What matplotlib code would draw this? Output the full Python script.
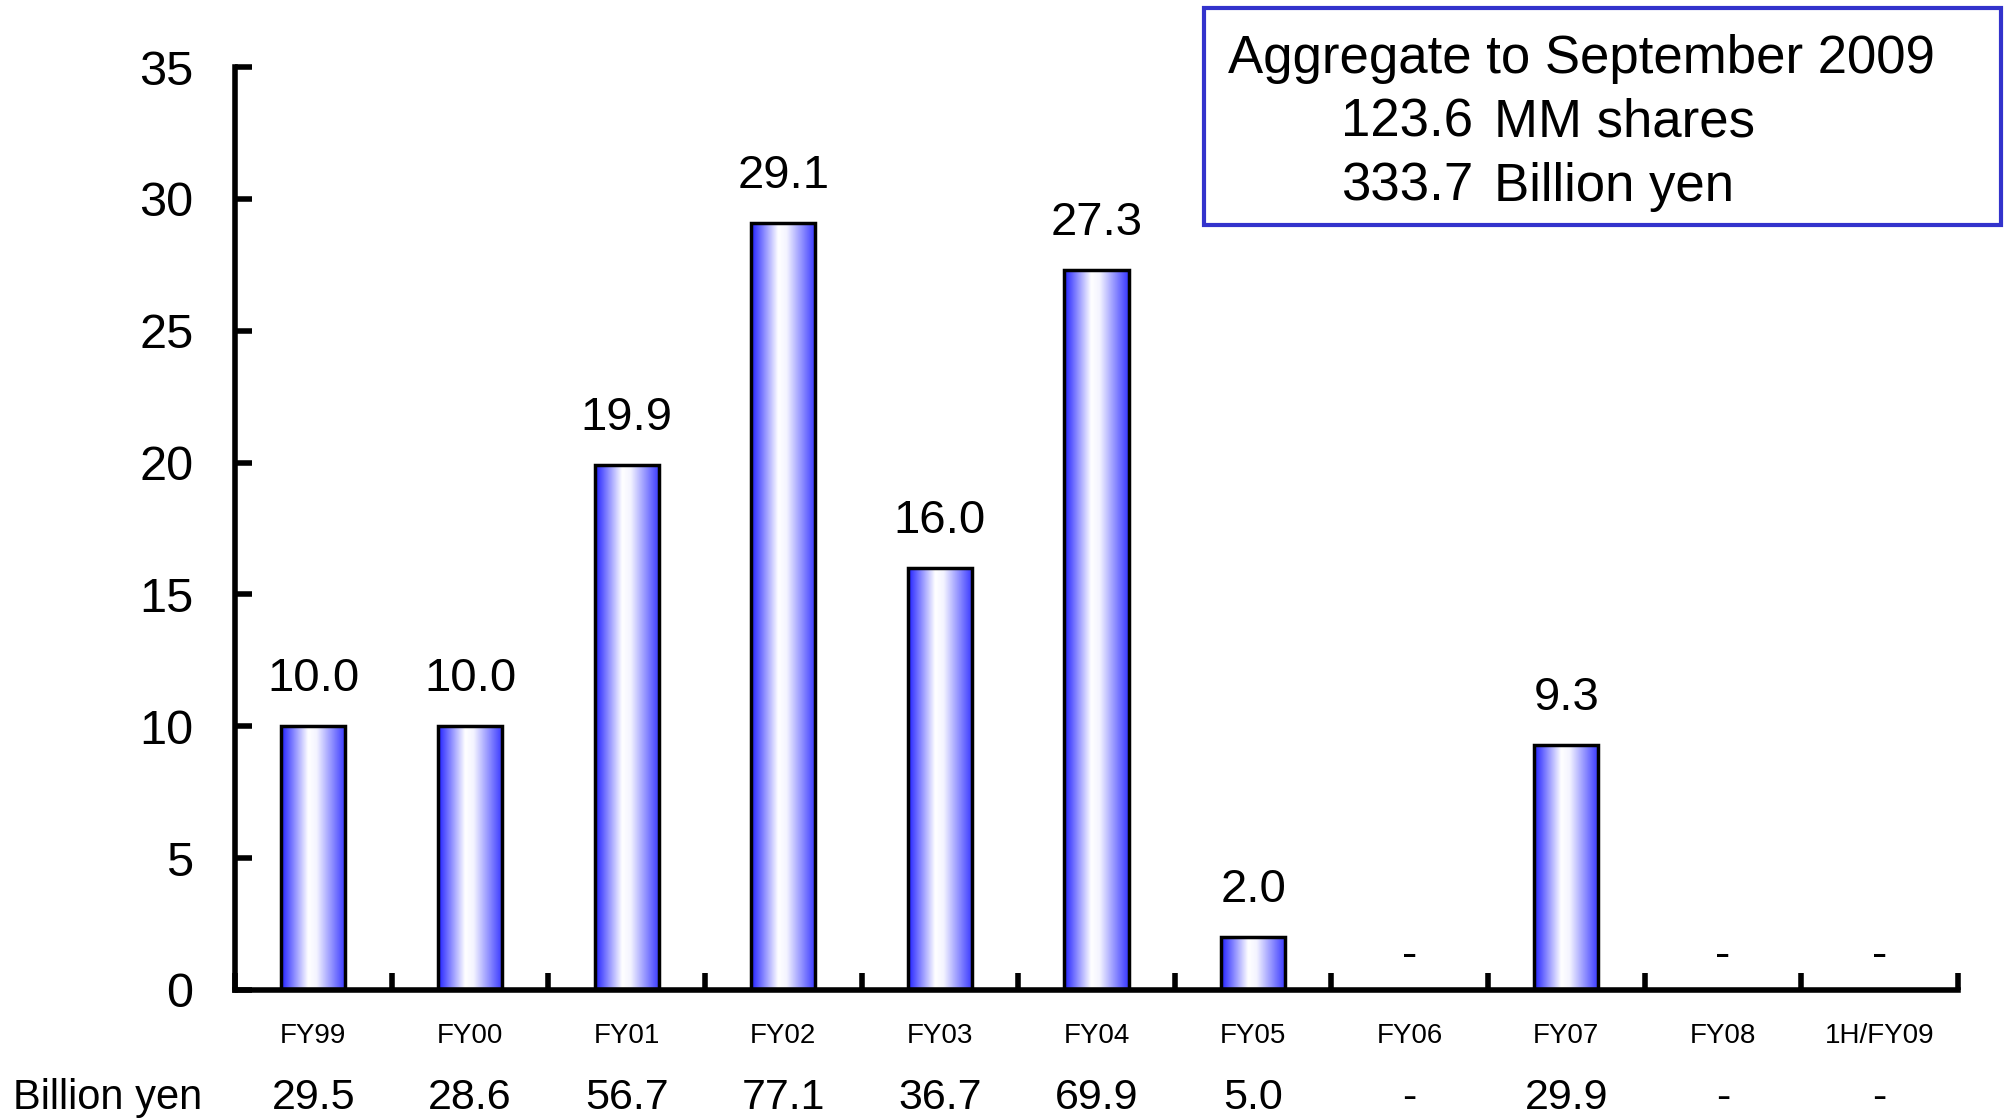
import numpy as np
import matplotlib
matplotlib.use("Agg")
import matplotlib.pyplot as plt
from matplotlib.colors import LinearSegmentedColormap
from matplotlib.patches import Rectangle
from matplotlib.transforms import blended_transform_factory

plt.rcParams['font.family'] = ['Liberation Sans', 'DejaVu Sans']

# share buyback by fiscal year (MM shares) and amount (billion yen)
periodos = ["FY99", "FY00", "FY01", "FY02", "FY03", "FY04", "FY05",
            "FY06", "FY07", "FY08", "1H/FY09"]
acciones = [10.0, 10.0, 19.9, 29.1, 16.0, 27.3, 2.0, None, 9.3, None, None]
montos = ["29.5", "28.6", "56.7", "77.1", "36.7", "69.9", "5.0", "-", "29.9", "-", "-"]
yticks = [0, 5, 10, 15, 20, 25, 30, 35]

fig = plt.figure(figsize=(20.04, 11.18), dpi=100)
ax = fig.add_axes([0.1173, 0.1145, 0.8597, 0.8255])

# degradado azul-blanco-azul para las barras
cmap = LinearSegmentedColormap.from_list(
    "barra", [(0.0, "#1f1fff"), (0.42, "#ffffff"), (0.55, "#f4f4ff"), (1.0, "#3535ff")])
grad = np.linspace(0, 1, 256).reshape(1, -1)

ancho = 0.41
x = np.arange(len(periodos))
for i, v in enumerate(acciones):
    if v is None:
        ax.text(i, 1.3, "-", ha="center", va="center", fontsize=33)
        continue
    ax.imshow(grad, extent=[i - ancho / 2, i + ancho / 2, 0, v], aspect="auto",
              cmap=cmap, zorder=2, interpolation="bicubic")
    ax.bar(i, v, width=ancho, facecolor="none", edgecolor="black", linewidth=2.5, zorder=3)
    ax.annotate("{:.1f}".format(v), (i, v), xytext=(0, 47), textcoords="offset pixels",
                ha="center", va="center", fontsize=34)

ax.set_xlim(-0.5, len(periodos) - 0.5)
ax.set_ylim(0, 35)
ax.set_yticks(yticks)
ax.tick_params(axis="y", direction="in", length=12, width=4, labelsize=35, pad=30)

# marcas en los limites de cada periodo, etiquetas al centro
ax.set_xticks(np.arange(len(periodos) + 1) - 0.5)
ax.set_xticklabels([])
ax.set_xticks(x, minor=True)
ax.set_xticklabels(periodos, minor=True)
ax.tick_params(axis="x", which="major", direction="in", length=12, width=4)
ax.tick_params(axis="x", which="minor", length=0, labelsize=20, pad=24)

for s in ["top", "right"]:
    ax.spines[s].set_visible(False)
for s in ["left", "bottom"]:
    ax.spines[s].set_linewidth(4)
    ax.spines[s].set_zorder(4)

# fila de montos en miles de millones de yenes
tr = blended_transform_factory(ax.transData, fig.transFigure)
fig.text(0.0065, 0.0175, "Billion yen", ha="left", va="center", fontsize=30)
for i, m in enumerate(montos):
    ax.text(i, 0.0175, m, transform=tr, ha="center", va="center", fontsize=31)

# recuadro con el acumulado
fig.patches.append(Rectangle((0.601, 0.7987), 0.3977, 0.194, transform=fig.transFigure,
                             facecolor="white", edgecolor="#3333cc", linewidth=3))
fig.text(0.613, 0.9475, "Aggregate to September 2009", ha="left", va="center", fontsize=38)
fig.text(0.669, 0.8900, "123.6", ha="left", va="center", fontsize=38)
fig.text(0.7455, 0.8900, "MM shares", ha="left", va="center", fontsize=38)
fig.text(0.669, 0.8328, "333.7", ha="left", va="center", fontsize=38)
fig.text(0.7455, 0.8328, "Billion yen", ha="left", va="center", fontsize=38)

plt.savefig("out.png", dpi=100)
